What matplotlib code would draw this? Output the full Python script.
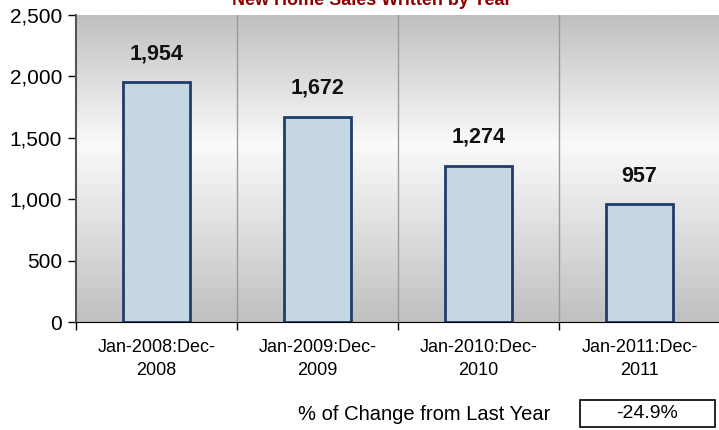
import numpy as np
import matplotlib.pyplot as plt
from matplotlib.colors import LinearSegmentedColormap
from matplotlib.patches import Rectangle

plt.rcParams['font.family'] = ['Liberation Sans', 'DejaVu Sans']

# data
periods = ["Jan-2008:Dec-\n2008", "Jan-2009:Dec-\n2009",
           "Jan-2010:Dec-\n2010", "Jan-2011:Dec-\n2011"]
sales = [1954, 1672, 1274, 957]
yticks = [0, 500, 1000, 1500, 2000, 2500]
title = "New Home Sales Written by Year"
change_label = "% of Change from Last Year"
change_value = "-24.9%"

fig = plt.figure(figsize=(7.19, 4.30), dpi=100)
ax = fig.add_axes([76 / 719, 108 / 430, 644 / 719, 307 / 430])

x = np.arange(len(sales))
ax.set_xlim(-0.5, len(sales) - 0.5)
ax.set_ylim(0, 2500)

# grey -> light -> grey background gradient
cmap = LinearSegmentedColormap.from_list(
    "bg", [(0, "#c0c0c0"), (0.58, "#fafafa"), (1, "#c0c0c0")])
grad = np.linspace(0, 1, 256).reshape(-1, 1)
ax.imshow(grad, cmap=cmap, aspect="auto", origin="lower",
          extent=(-0.5, len(sales) - 0.5, 0, 2500), zorder=0)

# category dividers
for b in x[:-1] + 0.5:
    ax.axvline(b, color="#9a9a9a", lw=1, zorder=1)

ax.bar(x, sales, width=0.41, color="#c5d7e0", edgecolor="#1f3d6b",
       linewidth=2, zorder=2)
for xi, v in zip(x, sales):
    ax.text(xi, v + 145, f"{v:,}", ha="center", va="bottom",
            fontsize=15.5, fontweight="bold", color="#111111")

ax.set_yticks(yticks)
ax.set_yticklabels([f"{t:,}" for t in yticks], fontsize=15)
ax.set_xticks(x)
ax.set_xticklabels(periods, fontsize=13, linespacing=1.5)
ax.tick_params(axis="x", length=0, pad=12)
ax.set_xticks(np.arange(-0.5, len(sales) - 0.5), minor=True)
ax.tick_params(axis="x", which="minor", length=6, width=1, color="black")
ax.tick_params(axis="y", length=6, width=1, pad=4)

for s in ["top", "right"]:
    ax.spines[s].set_visible(False)
ax.spines["left"].set_color("#555555")
ax.spines["left"].set_linewidth(1.5)
ax.spines["bottom"].set_color("black")

fig.text(372 / 719, 1 - 5 / 430, title, ha="center", va="baseline",
         fontsize=13, fontweight="bold", color="#8b0000")

fig.text(550 / 719, 1 - 414 / 430, change_label, ha="right", va="center",
         fontsize=14.5)
fig.patches.append(Rectangle((580 / 719, 3 / 430), 135 / 719, 27 / 430,
                             transform=fig.transFigure, fill=False,
                             edgecolor="black", linewidth=1.2))
fig.text(647 / 719, 1 - 414 / 430, change_value, ha="center", va="center",
         fontsize=14)

fig.savefig("out.png", dpi=100)
